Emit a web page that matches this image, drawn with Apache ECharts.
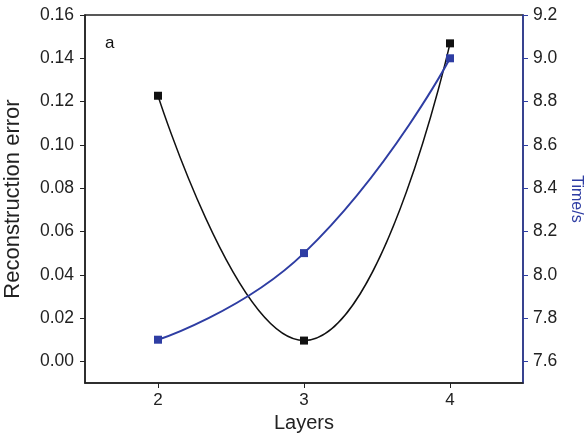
<!DOCTYPE html>
<html>
<head>
<meta charset="utf-8">
<script src="https://cdn.jsdelivr.net/npm/echarts@6/dist/echarts.min.js"></script>
<style>
  html, body { margin: 0; padding: 0; background: #fff; }
  #chart { width: 585px; height: 437px; }
</style>
</head>
<body>
<div id="chart"></div>
<script>
// data
const layers = [2, 3, 4];
const reconError = [0.1227, 0.0096, 0.1469];
const timeSec = [7.7, 8.1, 9.0];
const leftTicks = [0, 0.02, 0.04, 0.06, 0.08, 0.10, 0.12, 0.14, 0.16];
const rightTicks = [7.6, 7.8, 8.0, 8.2, 8.4, 8.6, 8.8, 9.0, 9.2];

const blue = '#2e3da3';
const font = 'Liberation Sans, Arial, sans-serif';

const chart = echarts.init(document.getElementById('chart'));
chart.setOption({
  backgroundColor: '#fff',
  animation: false,
  grid: {
    left: 85, right: 62, top: 15, bottom: 54,
    outerBoundsMode: 'none',
    show: true, borderColor: '#222', borderWidth: 1.5
  },
  graphic: [{
    type: 'text', left: 105, top: 35,
    style: { text: 'a', fontSize: 17, fontFamily: font, fill: '#111' }
  }],
  xAxis: {
    type: 'value', min: 1.5, max: 4.5,
    name: 'Layers', nameLocation: 'middle', nameGap: 29,
    nameTextStyle: { fontSize: 20, fontFamily: font, color: '#222' },
    axisLine: { onZero: false, lineStyle: { color: '#222', width: 1.5 } },
    axisTick: { customValues: layers, length: 5, lineStyle: { color: '#222' } },
    axisLabel: { customValues: layers, fontSize: 17, fontFamily: font, color: '#222', margin: 9 },
    splitLine: { show: false }
  },
  yAxis: [{
    type: 'value', min: -0.01, max: 0.16,
    name: 'Reconstruction error', nameLocation: 'middle', nameGap: 61,
    nameTextStyle: { fontSize: 22, fontFamily: font, color: '#222' },
    axisLine: { show: true, onZero: false, lineStyle: { color: '#222', width: 1.5 } },
    axisTick: { customValues: leftTicks, length: 5, lineStyle: { color: '#222' } },
    axisLabel: {
      customValues: leftTicks, fontSize: 17.5, fontFamily: font, color: '#222', margin: 11,
      formatter: (v) => v.toFixed(2)
    },
    splitLine: { show: false }
  }, {
    type: 'value', min: 7.5, max: 9.2, position: 'right',
    name: 'Time/s', nameLocation: 'middle', nameGap: 45, nameRotate: -90,
    nameTextStyle: { fontSize: 16, fontFamily: font, color: blue },
    axisLine: { show: true, onZero: false, lineStyle: { color: blue, width: 1.5 } },
    axisTick: { customValues: rightTicks, length: 5, lineStyle: { color: blue } },
    axisLabel: {
      customValues: rightTicks, fontSize: 17.5, fontFamily: font, color: '#222', margin: 10,
      formatter: (v) => v.toFixed(1)
    },
    splitLine: { show: false }
  }],
  series: [{
    name: 'Reconstruction error',
    type: 'line',
    smooth: true,
    data: layers.map((x, i) => [x, reconError[i]]),
    symbol: 'rect', symbolSize: 8,
    itemStyle: { color: '#111' },
    lineStyle: { color: '#111', width: 1.5 }
  }, {
    name: 'Time',
    type: 'line',
    yAxisIndex: 1,
    smooth: true,
    data: layers.map((x, i) => [x, timeSec[i]]),
    symbol: 'rect', symbolSize: 8,
    itemStyle: { color: blue },
    lineStyle: { color: blue, width: 2 }
  }]
});
</script>
</body>
</html>
